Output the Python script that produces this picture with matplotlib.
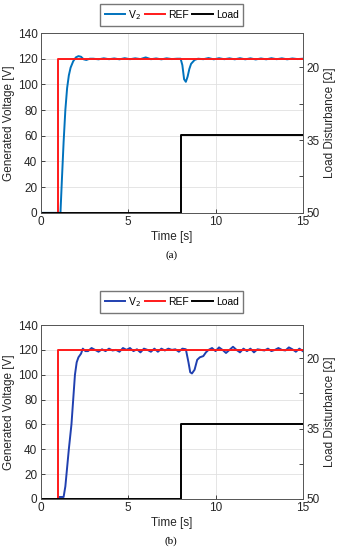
import numpy as np
import matplotlib.pyplot as plt

plt.rcParams['font.family'] = ['Liberation Sans', 'DejaVu Sans']

# reference and load disturbance (same for both panels)
ref_t = [1.0, 1.0, 15]
ref_v = [0, 120, 120]
load_t = [0, 8.0, 8.0, 15]
load_ohm = [50, 50, 34, 34]

# panel (a): V2 response
a_t = [0, 1.12, 1.2, 1.3, 1.4, 1.5, 1.6, 1.7, 1.85, 2.0, 2.15, 2.3, 2.45, 2.6, 2.8, 3.0,
       3.3, 3.6, 3.9, 4.2, 4.5, 4.8, 5.1, 5.4, 5.7, 6.0, 6.3, 6.6, 6.9, 7.2, 7.5, 7.8,
       8.0, 8.1, 8.2, 8.3, 8.4, 8.5, 8.6, 8.8, 9.0, 9.3, 9.6, 9.9, 10.2, 10.5, 10.8,
       11.1, 11.4, 11.7, 12.0, 12.3, 12.6, 12.9, 13.2, 13.5, 13.8, 14.1, 14.4, 14.7, 15]
a_v = [0, 0, 25, 55, 80, 97, 107, 113, 118, 121, 122, 121.5, 119.5, 119, 120, 120,
       119.5, 120.3, 119.6, 120.2, 119.5, 120.4, 119.6, 120.3, 119.7, 121, 119.6, 120.2,
       119.5, 120.3, 119.7, 120, 120, 115, 104, 102, 106, 112, 116, 119, 120, 119.6, 120.5,
       119.5, 120.4, 119.6, 120.3, 119.5, 120.4, 119.5, 120.3, 119.4, 120.2, 119.5, 120.4,
       119.6, 120.3, 119.5, 120.2, 119.7, 120]

# panel (b): V2 response
b_t = [1.0, 1.3, 1.4, 1.5, 1.6, 1.75, 1.85, 1.95, 2.05, 2.15, 2.3, 2.4, 2.55, 2.7, 2.9,
       3.1, 3.3, 3.5, 3.7, 3.9, 4.1, 4.3, 4.5, 4.7, 4.9, 5.1, 5.3, 5.5, 5.7, 5.9, 6.1,
       6.3, 6.5, 6.7, 6.9, 7.1, 7.3, 7.5, 7.7, 7.9, 8.1, 8.3, 8.45, 8.55, 8.65, 8.8,
       8.95, 9.1, 9.3, 9.45, 9.6, 9.8, 10.0, 10.2, 10.4, 10.6, 10.8, 11.0, 11.2, 11.4,
       11.6, 11.8, 12.0, 12.2, 12.4, 12.6, 12.8, 13.0, 13.2, 13.4, 13.6, 13.8, 14.0,
       14.2, 14.4, 14.6, 14.8, 15]
b_v = [1.5, 1.5, 10, 25, 40, 60, 80, 100, 110, 114, 117, 121, 119, 119, 121.5,
       120, 118.5, 120.5, 119, 121, 119.5, 120, 118.5, 121.5, 120, 121.5, 119, 120.5,
       118, 121, 120, 118.5, 121, 118.5, 121, 119.5, 121, 120, 120.5, 118.5, 121, 120.5,
       110, 102, 101, 104, 112, 114, 115, 118, 120, 121.5, 119, 122, 120, 117.5, 120,
       122.5, 120, 118, 121, 119, 121, 118, 120.5, 120, 119.5, 121, 119, 120, 121.5,
       120, 119.5, 122, 120.5, 118.5, 121, 119]

panels = [(a_t, a_v, '#0072BD', '(a)', 0.94, 0.327, 0.993, 0.527),
          (b_t, b_v, '#2040B0', '(b)', 0.409, 0.316, 0.471, 0.008)]

fig = plt.figure(figsize=(3.38, 5.5), dpi=100)
grey = '#262626'

for t, v, col, cap, top, h, leg_y, cap_y in panels:
    ax = fig.add_axes([0.121, top - h, 0.775, h])
    ax2 = ax.twinx()

    l1, = ax.plot(t, v, color=col, lw=1.4, label='V$_2$')
    l2, = ax.plot(ref_t, ref_v, color='#FF1A1A', lw=1.4, label='REF')
    l3, = ax2.plot(load_t, load_ohm, color='black', lw=1.4, label='Load')

    ax.set_xlim(0, 15)
    ax.set_ylim(0, 140)
    ax.set_xticks([0, 5, 10, 15])
    ax.set_yticks(range(0, 141, 20))
    ax.grid(True, color='#E0E0E0', lw=0.6)
    ax.set_axisbelow(True)

    ax2.set_ylim(50, 12.9)
    ax2.set_yticks([20, 27.5, 35, 42.5, 50])
    ax2.set_yticklabels(['20', '', '35', '', '50'])

    for a in (ax, ax2):
        a.tick_params(direction='in', length=3, width=0.6, labelsize=8.5,
                      colors=grey, labelcolor=grey, pad=2.5)
        for s in a.spines.values():
            s.set_color('#555555')
            s.set_linewidth(0.6)

    ax.set_xlabel('Time [s]', fontsize=8.5, color=grey, labelpad=2)
    ax.set_ylabel('Generated Voltage [V]', fontsize=8.5, color=grey, labelpad=1.5)
    ax2.set_ylabel('Load Disturbance [\u03a9]', fontsize=8.5, color=grey, labelpad=3)

    fig.legend(handles=[l1, l2, l3], loc='upper center', bbox_to_anchor=(0.508, leg_y),
               ncol=3, fontsize=7.5, frameon=True, fancybox=False, edgecolor='#555555',
               handlelength=2.0, handletextpad=0.25, columnspacing=0.35,
               borderpad=0.4, borderaxespad=0)

    fig.text(0.507, cap_y, cap, ha='center', va='bottom', fontsize=8,
             family='Liberation Serif')

fig.savefig('out.png', dpi=100)
